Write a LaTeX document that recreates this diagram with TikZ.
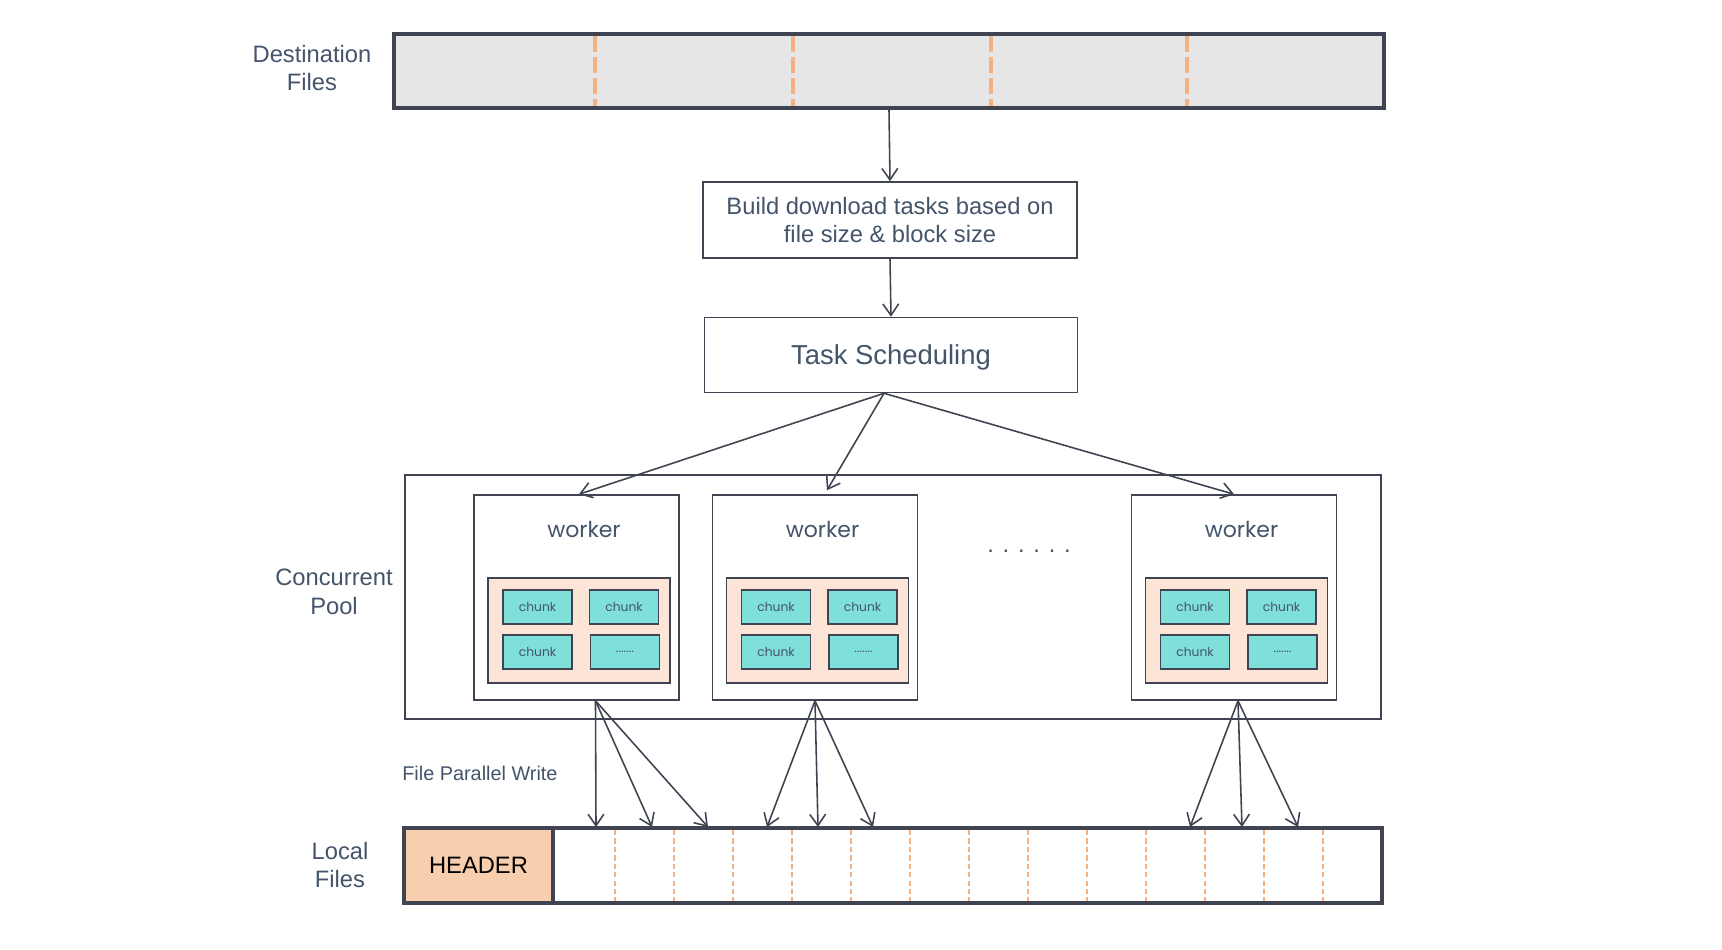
\documentclass[tikz,border=0pt]{standalone}
\usepackage{fontspec}
\setmainfont{Liberation Sans}
\newfontfamily\popfont{Poppins}
\usetikzlibrary{arrows.meta}

\newcommand\lblfont{\fontsize{13.5}{16.3}\selectfont}
\newcommand\schedfont{\fontsize{15.6}{18}\selectfont}
\newcommand\workfont{\popfont\fontsize{12.5}{14}\selectfont}
\newcommand\chunkfont{\popfont\fontsize{7}{8}\selectfont}
\newcommand\writefont{\fontsize{11.3}{13}\selectfont}

\begin{document}
\begin{tikzpicture}[x=0.02cm,y=-0.02cm,
    every node/.style={text=textcol, inner sep=0pt},
    box/.style={draw=linecol, line width=0.9pt, fill=white},
    filebox/.style={draw=linecol, line width=2pt},
    chunkbox/.style={draw=linecol, line width=1pt, fill=chunkcol, minimum width=1.38cm, minimum height=0.68cm, font=\chunkfont},
    arr/.style={draw=linecol, line width=0.9pt, -{Straight Barb[length=6.5pt,width=9pt]}},
    cut/.style={draw=dashcol}]
        \definecolor{linecol}{RGB}{64,68,82}
        \definecolor{textcol}{RGB}{68,84,106}
        \definecolor{destcol}{RGB}{230,230,230}
        \definecolor{dashcol}{RGB}{244,177,131}
        \definecolor{peachcol}{RGB}{252,229,214}
        \definecolor{chunkcol}{RGB}{127,223,217}
        \definecolor{headcol}{RGB}{248,207,174}
        \useasboundingbox (0,0) rectangle (1722,950);

        % destination files
        \node[filebox, fill=destcol, minimum width=19.8cm, minimum height=1.48cm] (dest) at (889,71) {};
        \foreach \x in {595,793,991,1187}
            \draw[cut, line width=2.2pt, dash pattern=on 9pt off 3pt] (\x,36) -- (\x,106);
        \node[align=center, font=\lblfont] (destlbl) at (312,68) {Destination\\Files};

        \node[box, minimum width=7.48cm, minimum height=1.52cm, align=center, font=\lblfont] (build) at (890,220) {Build download tasks based on\\file size \& block size};
        \node[box, minimum width=7.46cm, minimum height=1.5cm, text depth=0pt, font=\schedfont] (sched) at (891,355) {Task Scheduling};
        \draw[arr] (dest.south) -- (build.north);
        \draw[arr] (build.south) -- (sched.north);

        % concurrent pool
        \node[box, minimum width=19.52cm, minimum height=4.88cm] (pool) at (893,597) {};
        \node[align=center, font=\lblfont] (poollbl) at (334,592) {Concurrent\\Pool};

        \foreach \w/\cx in {1/576.5,2/815,3/1234} {
            \node[box, minimum size=4.1cm] (w\w) at (\cx,597.5) {};
            \node[font=\workfont] (w\w-lbl) at (\cx+7.5,529) {worker};
            \node[box, fill=peachcol, minimum width=3.64cm, minimum height=2.1cm] (w\w-buf) at (\cx+2.5,630.5) {};
            \node[chunkbox] (w\w-c1) at (\cx-39,607) {chunk};
            \node[chunkbox] (w\w-c2) at (\cx+47.5,607) {chunk};
            \node[chunkbox] (w\w-c3) at (\cx-39,652) {chunk};
            \node[chunkbox] (w\w-c4) at (\cx+48.5,652) {.......};
        }
        \node[font=\lblfont] (dots) at (1029,551) {. . . . . .};

        \coordinate (src) at ([xshift=-0.14cm]sched.south);
        \draw[arr] (src) -- ([xshift=0.05cm]w1.north);
        \draw[arr] (src) -- ([xshift=0.24cm,yshift=0.08cm]w2.north);
        \draw[arr] (src) -- (w3.north);

        % local files
        \node[filebox, fill=white, minimum width=19.56cm, minimum height=1.5cm] (local) at (893,865.5) {};
        \foreach \k in {0,...,12}
            \draw[cut, line width=1pt, dash pattern=on 3pt off 1.8pt] (615+59*\k,830) -- (615+59*\k,901);
        \node[filebox, fill=headcol, minimum width=2.98cm, minimum height=1.5cm, text=black, font=\lblfont] (header) at (478.5,865.5) {HEADER};
        \node[align=center, font=\lblfont] (locallbl) at (340,865) {Local\\Files};
        \node[anchor=west, font=\writefont] (writelbl) at (402,773) {File Parallel Write};

        \foreach \x [count=\i] in {596,652,708,767,818,873,1190,1242,1298}
            \coordinate (t\i) at (\x,827);
        \coordinate (s1) at ([xshift=0.38cm]w1.south);
        \coordinate (s2) at (w2.south);
        \coordinate (s3) at ([xshift=0.08cm]w3.south);
        \foreach \i in {1,2,3} \draw[arr] (s1) -- (t\i);
        \foreach \i in {4,5,6} \draw[arr] (s2) -- (t\i);
        \foreach \i in {7,8,9} \draw[arr] (s3) -- (t\i);
\end{tikzpicture}
\end{document}
